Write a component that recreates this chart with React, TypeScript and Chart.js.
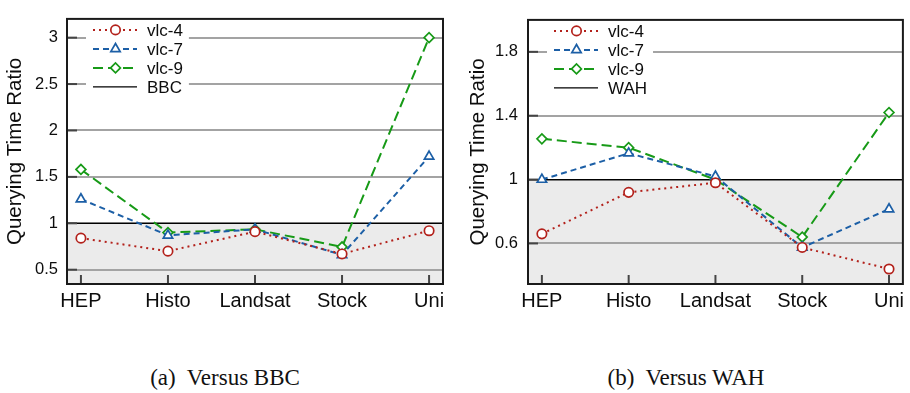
import React, { useEffect, useRef } from "react";
import { Chart, registerables } from "chart.js";
import { drawPoint } from "chart.js/helpers";

Chart.register(...registerables);

const categories = ["HEP", "Histo", "Landsat", "Stock", "Uni"];

const bbcVlc4 = [0.84, 0.7, 0.91, 0.67, 0.92];
const bbcVlc7 = [1.26, 0.87, 0.935, 0.66, 1.72];
const bbcVlc9 = [1.58, 0.9, 0.935, 0.745, 3.0];
const bbcTicks = [0.5, 1, 1.5, 2, 2.5, 3];

const wahVlc4 = [0.66, 0.92, 0.98, 0.575, 0.44];
const wahVlc7 = [1.0, 1.165, 1.02, 0.575, 0.815];
const wahVlc9 = [1.255, 1.2, 1.0, 0.64, 1.42];
const wahTicks = [0.6, 1, 1.4, 1.8];

const SANS = "'Liberation Sans', Arial, Helvetica, sans-serif";
const RED = "#b3211b";
const BLUE = "#1c5fa6";
const GREEN = "#179a17";

const decorPlugin = {
  id: "decor",
  beforeDraw(chart: any, _args: any, opts: any) {
    const { ctx, chartArea: a, scales } = chart;
    const y1 = scales.y.getPixelForValue(opts.ref);
    ctx.save();
    ctx.fillStyle = "#ebebeb";
    ctx.fillRect(a.left, y1, a.right - a.left, a.bottom - y1);
    ctx.restore();
  },
  beforeDatasetsDraw(chart: any, _args: any, opts: any) {
    const { ctx, chartArea: a, scales } = chart;
    const y1 = scales.y.getPixelForValue(opts.ref);
    ctx.save();
    ctx.strokeStyle = "#000";
    ctx.lineWidth = 1.3;
    ctx.beginPath();
    ctx.moveTo(a.left, y1);
    ctx.lineTo(a.right, y1);
    ctx.stroke();

    // legend
    ctx.font = `17px ${SANS}`;
    const items = chart.data.datasets.map((d: any) => ({
      label: d.label,
      color: d.borderColor,
      dash: d.borderDash,
      style: d.pointStyle,
      radius: d.pointRadius,
    }));
    items.push({ label: opts.refLabel, color: "#000", dash: [], style: null, radius: 0 });
    const textX = a.left + 80;
    let maxW = 0;
    items.forEach((it: any) => {
      maxW = Math.max(maxW, ctx.measureText(it.label).width);
    });
    ctx.fillStyle = "#fff";
    ctx.fillRect(a.left + 19, a.top + 2, textX + maxW + 6 - (a.left + 19), 76);
    items.forEach((it: any, i: number) => {
      const yy = a.top + 11 + i * 19;
      ctx.save();
      ctx.strokeStyle = it.color;
      ctx.lineWidth = it.style ? 2 : 1.2;
      ctx.setLineDash(it.dash || []);
      ctx.beginPath();
      ctx.moveTo(a.left + 26, yy);
      ctx.lineTo(a.left + 70, yy);
      ctx.stroke();
      ctx.restore();
      if (it.style) {
        ctx.save();
        ctx.strokeStyle = it.color;
        ctx.fillStyle = "#fff";
        ctx.setLineDash([]);
        ctx.lineWidth = 1.7;
        drawPoint(ctx, { pointStyle: it.style, radius: it.radius, rotation: 0, borderWidth: 1.7 } as any, a.left + 48.5, yy);
        ctx.restore();
      }
      ctx.fillStyle = "#0d0d0d";
      ctx.textBaseline = "middle";
      ctx.textAlign = "left";
      ctx.fillText(it.label, textX, yy + 1);
    });
    ctx.restore();
  },
  afterDraw(chart: any) {
    const { ctx, chartArea: a, scales } = chart;
    ctx.save();
    ctx.strokeStyle = "#444";
    ctx.lineWidth = 2;
    scales.y.ticks.forEach((t: any) => {
      const p = scales.y.getPixelForValue(t.value);
      ctx.beginPath();
      ctx.moveTo(a.left, p);
      ctx.lineTo(a.left + 10, p);
      ctx.stroke();
    });
    scales.x.ticks.forEach((t: any) => {
      const p = scales.x.getPixelForValue(t.value);
      ctx.beginPath();
      ctx.moveTo(p, a.bottom);
      ctx.lineTo(p, a.bottom - 9);
      ctx.stroke();
    });
    ctx.strokeStyle = "#1a1a1a";
    ctx.lineWidth = 2;
    ctx.strokeRect(a.left, a.top, a.right - a.left, a.bottom - a.top);
    ctx.restore();
  },
};

type PanelProps = {
  v4: number[];
  v7: number[];
  v9: number[];
  ticks: number[];
  yMin: number;
  yMax: number;
  refLabel: string;
  yWidth: number;
  tickPad: number;
  titlePad: number;
  rightPad: number;
};

function Panel(p: PanelProps) {
  const ref = useRef<HTMLCanvasElement | null>(null);
  useEffect(() => {
    if (!ref.current) return;
    const mk = (label: string, vals: number[], color: string, dash: number[], style: string, r: number) => ({
      label,
      data: vals.map((v, i) => ({ x: i, y: v })),
      borderColor: color,
      backgroundColor: "#fff",
      borderWidth: 2,
      borderDash: dash,
      borderCapStyle: "butt",
      pointStyle: style,
      pointRadius: r,
      pointBorderWidth: 1.7,
      pointBorderColor: color,
      pointBackgroundColor: "#fff",
      tension: 0,
      fill: false,
    });
    const chart = new Chart(ref.current, {
      type: "line",
      data: {
        datasets: [
          mk("vlc-4", p.v4, RED, [2, 4], "circle", 4.7),
          mk("vlc-7", p.v7, BLUE, [6, 4], "triangle", 5.4),
          mk("vlc-9", p.v9, GREEN, [10, 5], "rectRot", 4.9),
        ] as any,
      },
      options: {
        animation: false,
        responsive: false,
        events: [],
        layout: { padding: { left: 0, right: p.rightPad, top: 6, bottom: 0 } },
        plugins: {
          legend: { display: false },
          tooltip: { enabled: false },
          decor: { ref: 1, refLabel: p.refLabel },
        } as any,
        scales: {
          x: {
            type: "linear",
            min: -0.16,
            max: 4.16,
            afterBuildTicks: (s: any) => {
              s.ticks = categories.map((_, i) => ({ value: i }));
            },
            afterFit: (s: any) => {
              s.height = 36;
            },
            ticks: {
              callback: (v: any) => categories[v] ?? "",
              font: { family: SANS, size: 20 },
              color: "#0d0d0d",
              padding: 5,
              maxRotation: 0,
              autoSkip: false,
            },
            grid: { display: false, drawTicks: false },
            border: { display: false },
          },
          y: {
            type: "linear",
            min: p.yMin,
            max: p.yMax,
            afterBuildTicks: (s: any) => {
              s.ticks = p.ticks.map((v) => ({ value: v }));
            },
            afterFit: (s: any) => {
              s.width = p.yWidth;
            },
            ticks: {
              callback: (v: any) => String(v),
              font: { family: SANS, size: 16.5 },
              color: "#0d0d0d",
              padding: p.tickPad,
            },
            grid: { color: "#a3a3a3", lineWidth: 2, drawTicks: false },
            border: { display: false },
            title: {
              display: true,
              text: "Querying Time Ratio",
              font: { family: SANS, size: 20.5 },
              color: "#0d0d0d",
              padding: { top: p.titlePad, bottom: 0 },
            },
          },
        },
      },
      plugins: [decorPlugin as any],
    });
    return () => chart.destroy();
  }, []);
  return <canvas ref={ref} width={455} height={320} style={{ display: "block", width: 455, height: 320 }} />;
}

const captionStyle: React.CSSProperties = {
  position: "absolute",
  top: 366,
  width: 300,
  textAlign: "center",
  fontFamily: "'Liberation Serif', 'Times New Roman', serif",
  fontSize: 23,
  lineHeight: "23px",
  color: "#111",
  whiteSpace: "pre",
};

export default function App() {
  return (
    <div style={{ position: "absolute", left: 0, top: 0, width: 910, height: 393, background: "#fff", overflow: "hidden" }}>
      <div style={{ position: "absolute", left: 0, top: 0 }}>
        <Panel v4={bbcVlc4} v7={bbcVlc7} v9={bbcVlc9} ticks={bbcTicks} yMin={0.346} yMax={3.202} refLabel="BBC" yWidth={67} tickPad={9} titlePad={3} rightPad={12} />
      </div>
      <div style={{ position: "absolute", left: 455, top: 0 }}>
        <Panel v4={wahVlc4} v7={wahVlc7} v9={wahVlc9} ticks={wahTicks} yMin={0.346} yMax={2.0} refLabel="WAH" yWidth={73} tickPad={10} titlePad={11} rightPad={6} />
      </div>
      <div style={{ ...captionStyle, left: 225 - 150 }}>{"(a)  Versus BBC"}</div>
      <div style={{ ...captionStyle, left: 686 - 150 }}>{"(b)  Versus WAH"}</div>
    </div>
  );
}
